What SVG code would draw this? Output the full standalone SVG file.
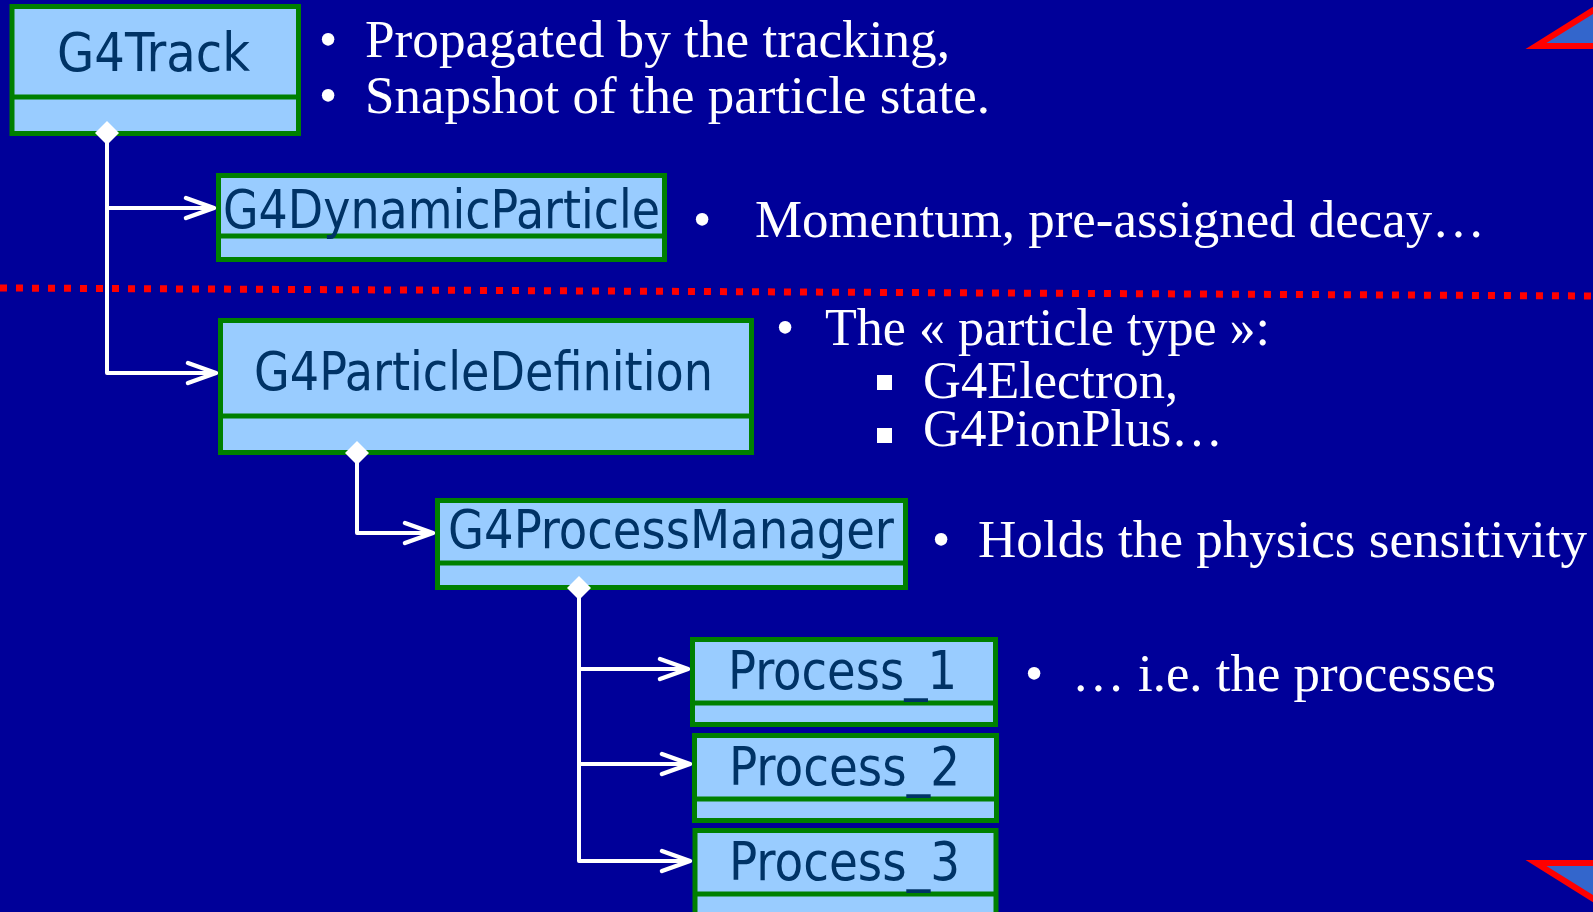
<svg xmlns="http://www.w3.org/2000/svg" width="1593" height="912" viewBox="0 0 1593 912">
<defs>
<style>
.box{fill:#99CCFF;stroke:#008000;stroke-width:5}
.div{stroke:#008000;stroke-width:5}
.lbl{font-family:"DejaVu Sans Condensed","DejaVu Sans","Verdana",sans-serif;font-stretch:condensed;font-size:53px;fill:#003366}
.txt{font-family:"Liberation Serif","Times New Roman",serif;font-size:52px;fill:#FFFFFF}
.conn{fill:none;stroke:#FFFFFF;stroke-width:4;stroke-linejoin:round}
.dia{fill:#FFFFFF}
.tri{fill:#3366CC;stroke:#FF0000;stroke-width:6}
</style>
<marker id="arr" markerUnits="userSpaceOnUse" markerWidth="40" markerHeight="30" viewBox="-32 -15 40 30" refX="0" refY="0" orient="auto" overflow="visible">
<path d="M-28,-10 L0,0 L-28,10" fill="none" stroke="#FFFFFF" stroke-width="4.5" stroke-linecap="round" stroke-linejoin="round"/>
</marker>
</defs>
<rect x="0" y="0" width="1593" height="912" fill="#000099"/>
<line x1="0" y1="288" x2="1593" y2="296" stroke="#FF0000" stroke-width="7" stroke-dasharray="7 9"/>
<polygon class="tri" points="1536,46 1600,6 1600,46"/>
<polygon class="tri" points="1536,863 1600,863 1600,903"/>
<g id="connectors">
<path class="conn" d="M107,140 V373 H216" marker-end="url(#arr)"/>
<path class="conn" d="M107,208 H214" marker-end="url(#arr)"/>
<path class="conn" d="M357,460 V533 H433" marker-end="url(#arr)"/>
<path class="conn" d="M579,595 V861 H690" marker-end="url(#arr)"/>
<path class="conn" d="M579,669 H688" marker-end="url(#arr)"/>
<path class="conn" d="M579,764 H690" marker-end="url(#arr)"/>
</g>
<g id="G4Track">
<rect class="box" x="12" y="6.5" width="286.5" height="127"/>
<line class="div" x1="12" y1="97" x2="298.5" y2="97"/>
<text class="lbl" x="57" y="71" textLength="193" lengthAdjust="spacingAndGlyphs">G4Track</text>
<polygon class="dia" points="107,121 119,133 107,145 95,133"/>
</g>
<g id="G4DynamicParticle">
<rect class="box" x="218.5" y="175.5" width="446" height="84"/>
<line class="div" x1="218.5" y1="236" x2="664.5" y2="236"/>
<text class="lbl" x="223" y="228" textLength="437" lengthAdjust="spacingAndGlyphs">G4DynamicParticle</text>
</g>
<g id="G4ParticleDefinition">
<rect class="box" x="220.5" y="320.5" width="531" height="132"/>
<line class="div" x1="220.5" y1="416" x2="751.5" y2="416"/>
<text class="lbl" x="254" y="390" textLength="459" lengthAdjust="spacingAndGlyphs">G4ParticleDefinition</text>
<polygon class="dia" points="357,441 369,453 357,465 345,453"/>
</g>
<g id="G4ProcessManager">
<rect class="box" x="437.5" y="500.5" width="468" height="87"/>
<line class="div" x1="437.5" y1="563" x2="905.5" y2="563"/>
<text class="lbl" x="448" y="548" textLength="446" lengthAdjust="spacingAndGlyphs">G4ProcessManager</text>
<polygon class="dia" points="579,576 591,588 579,600 567,588"/>
</g>
<g id="Process_1">
<rect class="box" x="692.5" y="639.5" width="303" height="85"/>
<line class="div" x1="692.5" y1="703" x2="995.5" y2="703"/>
<text class="lbl" x="728" y="689" textLength="229" lengthAdjust="spacingAndGlyphs">Process_1</text>
</g>
<g id="Process_2">
<rect class="box" x="694.5" y="735.5" width="302" height="85"/>
<line class="div" x1="694.5" y1="799" x2="996.5" y2="799"/>
<text class="lbl" x="729" y="785" textLength="231" lengthAdjust="spacingAndGlyphs">Process_2</text>
</g>
<g id="Process_3">
<rect class="box" x="695" y="830.5" width="301" height="85"/>
<line class="div" x1="695" y1="894" x2="996" y2="894"/>
<text class="lbl" x="729" y="880" textLength="231" lengthAdjust="spacingAndGlyphs">Process_3</text>
</g>
<g id="notes">
<text class="txt" x="319" y="57">•</text>
<text class="txt" x="365" y="57" textLength="585" lengthAdjust="spacingAndGlyphs">Propagated by the tracking,</text>
<text class="txt" x="319" y="113">•</text>
<text class="txt" x="365" y="113" textLength="625" lengthAdjust="spacingAndGlyphs">Snapshot of the particle state.</text>
<text class="txt" x="693" y="237">•</text>
<text class="txt" x="755" y="237" textLength="730" lengthAdjust="spacingAndGlyphs">Momentum, pre-assigned decay…</text>
<text class="txt" x="776" y="345">•</text>
<text class="txt" x="825" y="345" textLength="445" lengthAdjust="spacingAndGlyphs">The « particle type »:</text>
<rect x="877" y="375" width="15" height="15" fill="#FFFFFF"/>
<text class="txt" x="923" y="398" textLength="255" lengthAdjust="spacingAndGlyphs">G4Electron,</text>
<rect x="877" y="428" width="15" height="15" fill="#FFFFFF"/>
<text class="txt" x="923" y="446" textLength="300" lengthAdjust="spacingAndGlyphs">G4PionPlus…</text>
<text class="txt" x="932" y="557">•</text>
<text class="txt" x="978" y="557" textLength="609" lengthAdjust="spacingAndGlyphs">Holds the physics sensitivity</text>
<text class="txt" x="1025" y="691">•</text>
<text class="txt" x="1072" y="691" textLength="424" lengthAdjust="spacingAndGlyphs">… i.e. the processes</text>
</g>
</svg>
